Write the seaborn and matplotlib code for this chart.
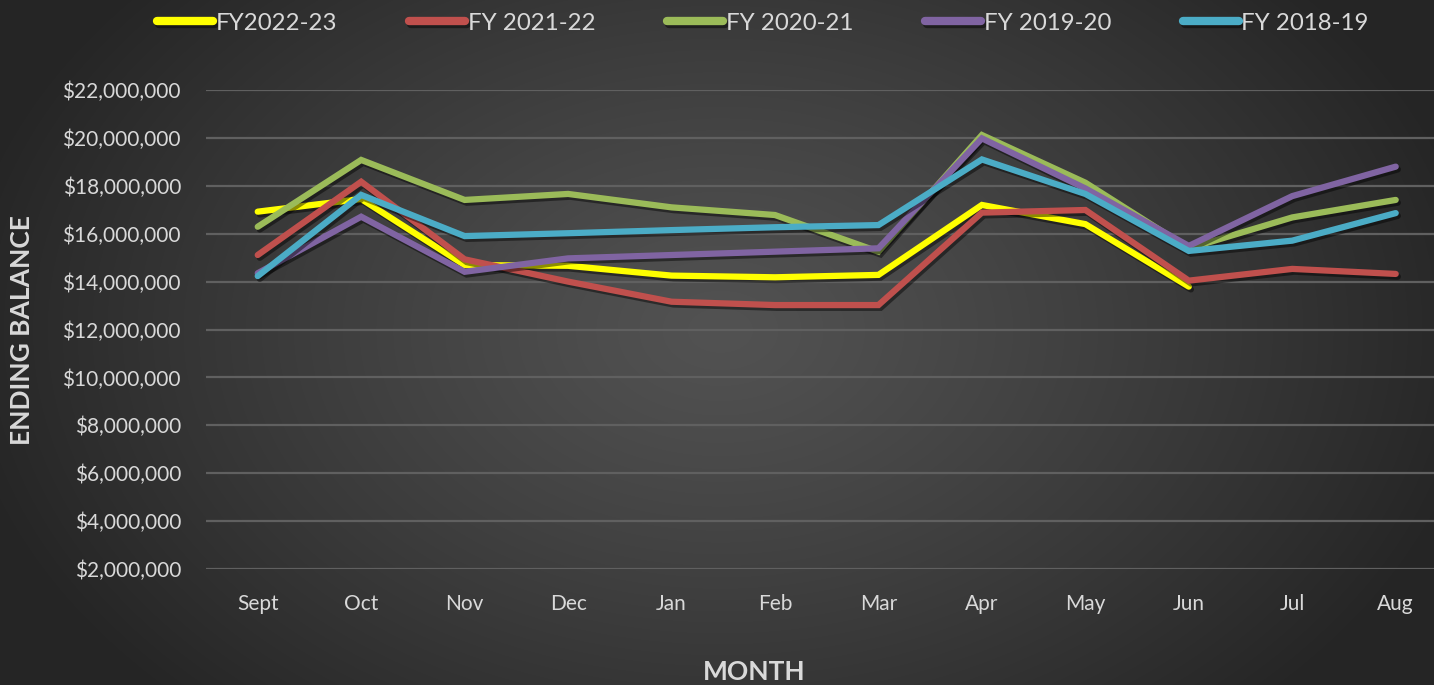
import numpy as np
import pandas as pd
import matplotlib
matplotlib.use("Agg")
import matplotlib.pyplot as plt
import matplotlib.patheffects as pe
from matplotlib.ticker import FuncFormatter
import seaborn as sns

months = ["Sept", "Oct", "Nov", "Dec", "Jan", "Feb", "Mar", "Apr", "May", "Jun", "Jul", "Aug"]

fy2022_23 = [16.92, 17.45, 14.69, 14.66, 14.25, 14.18, 14.28, 17.20, 16.40, 13.79, np.nan, np.nan]
fy2021_22 = [15.11, 18.17, 14.93, 14.00, 13.16, 13.02, 13.02, 16.88, 16.99, 14.04, 14.53, 14.32]
fy2020_21 = [16.29, 19.08, 17.41, 17.66, 17.10, 16.78, 15.25, 20.12, 18.13, 15.39, 16.68, 17.41]
fy2019_20 = [14.35, 16.71, 14.41, 14.97, 15.11, 15.25, 15.39, 19.98, 17.89, 15.49, 17.57, 18.80]
fy2018_19 = [14.23, 17.62, 15.90, 16.02, 16.15, 16.27, 16.36, 19.10, 17.66, 15.28, 15.71, 16.86]

series_names = ["FY2022-23", "FY 2021-22", "FY 2020-21", "FY 2019-20", "FY 2018-19"]
series_vals = [fy2022_23, fy2021_22, fy2020_21, fy2019_20, fy2018_19]
colors = ["#FFFF00", "#C0504D", "#9BBB59", "#8064A2", "#4BACC6"]

rows = []
for name, vals in zip(series_names, series_vals):
    for i, (m, v) in enumerate(zip(months, vals)):
        rows.append({"idx": i, "Month": m, "Series": name, "Balance": v * 1e6})
df = pd.DataFrame(rows).dropna()

sns.set_style("white")
plt.rcParams["font.family"] = ["Lato", "DejaVu Sans"]
text_col = "#d9d9d9"

W, H = 1434, 685
fig = plt.figure(figsize=(W / 100, H / 100), dpi=100)

# radial gradient background
bg = fig.add_axes([0, 0, 1, 1], zorder=-10)
yy, xx = np.mgrid[0:H, 0:W]
d = np.sqrt(((xx - 720) / 760.0) ** 2 + ((yy - 330) / 520.0) ** 2)
t = np.clip(d / 1.0, 0, 1) ** 1.2
c0, c1 = 0x52 / 255, 0x26 / 255
img = c0 + (c1 - c0) * t
bg.imshow(np.dstack([img, img, img]), aspect="auto", extent=[0, 1, 0, 1])
bg.axis("off")

ax = fig.add_axes([206 / W, 1 - 569 / H, (W - 206) / W, (569 - 90) / H])
ax.patch.set_alpha(0)

sns.lineplot(data=df, x="idx", y="Balance", hue="Series", hue_order=series_names,
             palette=colors, linewidth=4.5, sort=False, ax=ax, estimator=None)

for ln in ax.get_lines():
    ln.set_solid_capstyle("round")
    ln.set_solid_joinstyle("miter")
    ln.set_path_effects([pe.SimpleLineShadow(offset=(1.5, -2), alpha=0.45, shadow_color="black"),
                         pe.Normal()])

ax.set_xlim(-0.5, 11.37)
ax.set_ylim(2e6, 22e6)
ax.set_yticks(np.arange(2e6, 22.1e6, 2e6))
ax.yaxis.set_major_formatter(FuncFormatter(lambda v, p: "${:,.0f}".format(v)))
ax.set_xticks(range(len(months)))
ax.set_xticklabels(months)
ax.grid(axis="y", color="#606060", linewidth=1.6)
ax.grid(axis="x", visible=False)
ax.set_axisbelow(True)
for s in ax.spines.values():
    s.set_visible(False)
ax.tick_params(axis="y", length=0, pad=18, labelsize=15, labelcolor=text_col)
ax.tick_params(axis="x", length=0, pad=18, labelsize=15, labelcolor=text_col)
ax.set_xlabel("")
ax.set_ylabel("")

fig.text(754 / W, 1 - 672 / H, "MONTH", ha="center", va="center",
         fontsize=19, fontweight="bold", color=text_col)
fig.text(22 / W, 1 - 330 / H, "ENDING BALANCE", ha="center", va="center", rotation=90,
         fontsize=19, fontweight="bold", color=text_col)

handles, labels = ax.get_legend_handles_labels()
ax.legend_.remove()
leg = fig.legend(handles, labels, loc="center", bbox_to_anchor=(763 / W, 1 - 23 / H),
                 ncol=5, frameon=False, fontsize=17.3, handlelength=2.33,
                 handletextpad=0.1, columnspacing=3.0, labelcolor=text_col)
for h in leg.legend_handles:
    h.set_linewidth(6)
    h.set_solid_capstyle("round")

fig.savefig("out.png", dpi=100)
